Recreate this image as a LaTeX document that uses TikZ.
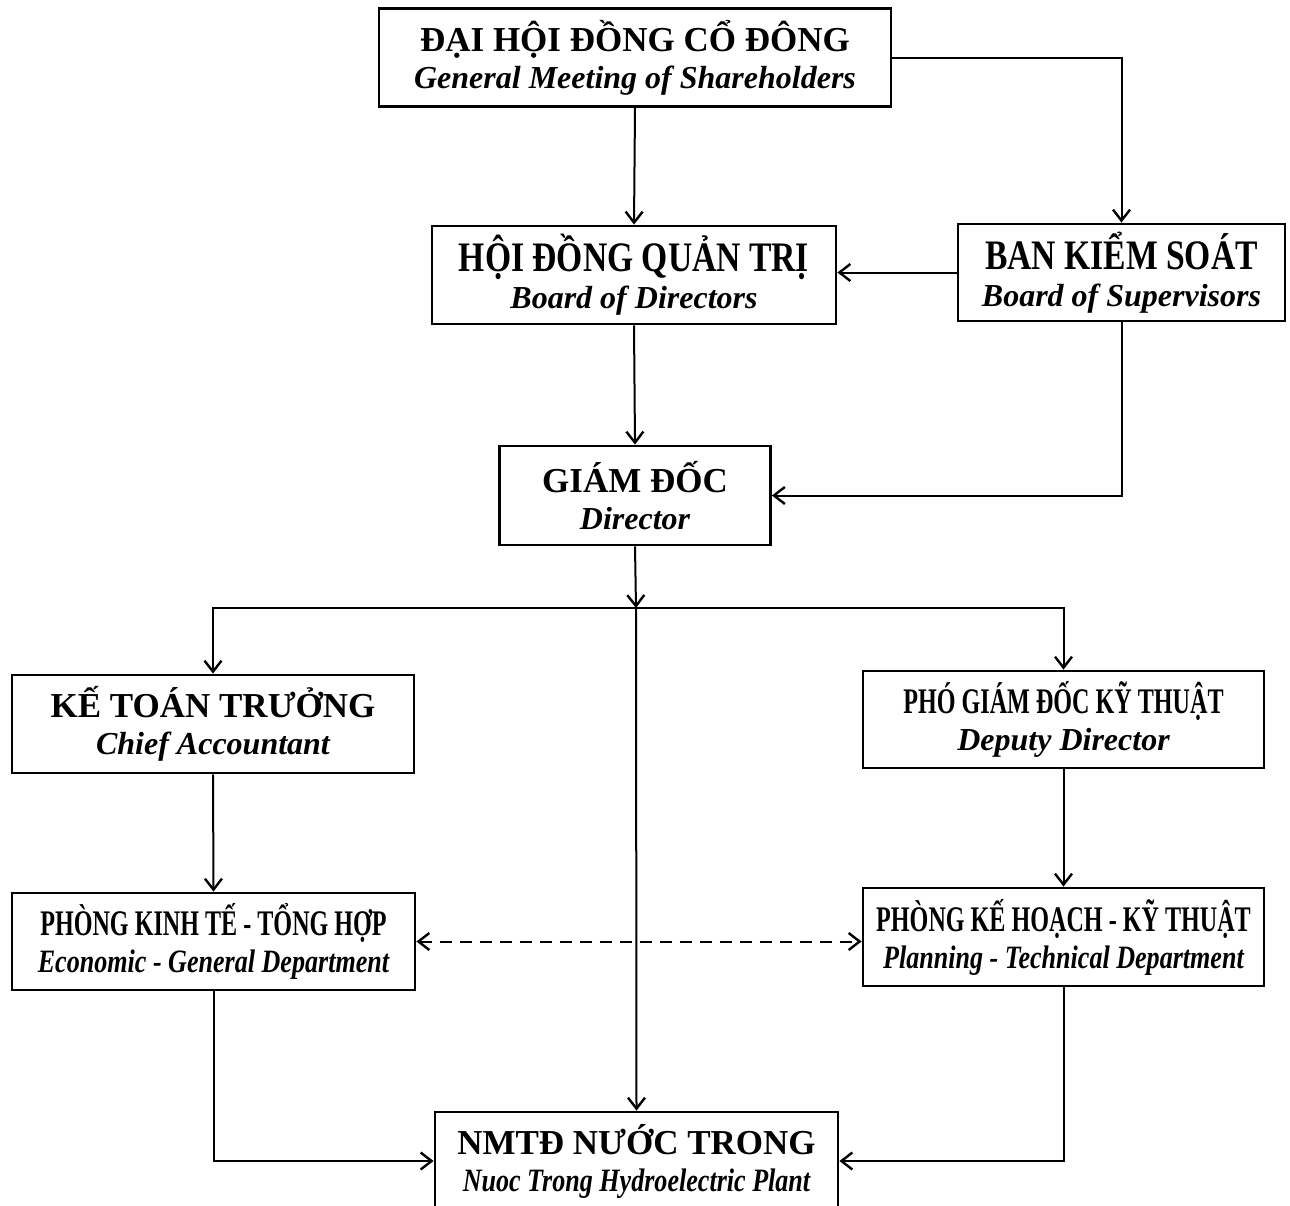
\documentclass[tikz,border=0pt]{standalone}
\usepackage{fontspec}
\setmainfont{Liberation Serif}
\newfontfamily\narrowfont[FakeStretch=0.80]{Liberation Serif}
\newfontfamily\tightfont[FakeStretch=0.67]{Liberation Serif}
\usetikzlibrary{arrows.meta}

\newcommand{\vnbig}{\fontsize{17.5}{18}\selectfont\bfseries}
\newcommand{\enbig}{\fontsize{16}{18}\selectfont\bfseries\itshape}
\newcommand{\vnnarrow}{\fontsize{21}{18}\selectfont\narrowfont\bfseries}
\newcommand{\vntight}{\fontsize{18}{18}\selectfont\tightfont\bfseries}
\newcommand{\ennarrow}{\fontsize{16.3}{18}\selectfont\narrowfont\bfseries\itshape}

\tikzset{
  unit/.style={draw, line width=1.4pt, align=center, inner sep=0pt,
    font=\fontsize{16}{18.5}\selectfont},
  link/.style={line width=1pt, -{Straight Barb[length=5.5pt,width=8.5pt,line width=1.2pt]}},
  dual/.style={line width=1pt, dash pattern=on 6pt off 4pt,
    {Straight Barb[length=5.5pt,width=8.5pt,line width=1.2pt]}-{Straight Barb[length=5.5pt,width=8.5pt,line width=1.2pt]}},
}

\begin{document}
\begin{tikzpicture}[x=0.5pt,y=0.5pt,yscale=-1,xscale=1]
\useasboundingbox (0,0) rectangle (1290,1205);

% Text Node
\node[unit, minimum width=256pt, minimum height=49pt] (gms) at (635,57.5)
  {{\vnbig ĐẠI HỘI ĐỒNG CỔ ĐÔNG}\\ {\enbig General Meeting of Shareholders}};
% Text Node
\node[unit, minimum width=202pt, minimum height=49pt] (hdqt) at (634,275)
  {{\vnnarrow HỘI ĐỒNG QUẢN TRỊ}\\ {\enbig Board of Directors}};
% Text Node
\node[unit, minimum width=163.5pt, minimum height=48.5pt] (bks) at (1121.5,272.5)
  {{\vnnarrow BAN KIỂM SOÁT}\\ {\enbig Board of Supervisors}};
% Text Node
\node[unit, minimum width=135.5pt, minimum height=49.5pt] (gd) at (635,495.5)
  {{\vnbig GIÁM ĐỐC}\\ {\enbig Director}};
% Text Node
\node[unit, minimum width=201pt, minimum height=49pt] (ktt) at (213,724)
  {{\vnbig KẾ TOÁN TRƯỞNG}\\ {\enbig Chief Accountant}};
% Text Node
\node[unit, minimum width=200.5pt, minimum height=48.5pt] (pgd) at (1063.5,719.5)
  {{\vntight PHÓ GIÁM ĐỐC KỸ THUẬT}\\ {\enbig Deputy Director}};
% Text Node
\node[unit, minimum width=201.5pt, minimum height=48.5pt] (pkt) at (213.5,941.5)
  {{\vntight PHÒNG KINH TẾ - TỔNG HỢP}\\ {\ennarrow Economic - General Department}};
% Text Node
\node[unit, minimum width=200.5pt, minimum height=49pt] (pkh) at (1063.5,937)
  {{\vntight PHÒNG KẾ HOẠCH - KỸ THUẬT}\\ {\ennarrow Planning - Technical Department}};
% Text Node
\node[unit, minimum width=201.5pt, minimum height=49pt] (nmtd) at (636.5,1161)
  {{\vnbig NMTĐ NƯỚC TRONG}\\ {\ennarrow Nuoc Trong Hydroelectric Plant}};

\coordinate (split) at (636,608);

%Straight Lines
\draw[link] (gms.south) -- (hdqt.north);
\draw[link] (gms.east) -| (bks.north);
\draw[link] (bks.west) -- (bks.west -| hdqt.east);
\draw[link] (hdqt.south) -- (gd.north);
\draw[link] (bks.south) |- (gd.east);
%Straight Lines
\draw[link] (gd.south) -- (split);
\draw[link] (split) -- (nmtd.north);
\draw[link] (split) -| (ktt.north);
\draw[link] (split) -| (pgd.north);
\draw[link] (ktt.south) -- (pkt.north);
\draw[link] (pgd.south) -- (pkh.north);
\draw[dual] (pkt.east) -- (pkt.east -| pkh.west);
\draw[link] (pkt.south) |- (nmtd.west);
\draw[link] (pkh.south) |- (nmtd.east);
\end{tikzpicture}
\end{document}
